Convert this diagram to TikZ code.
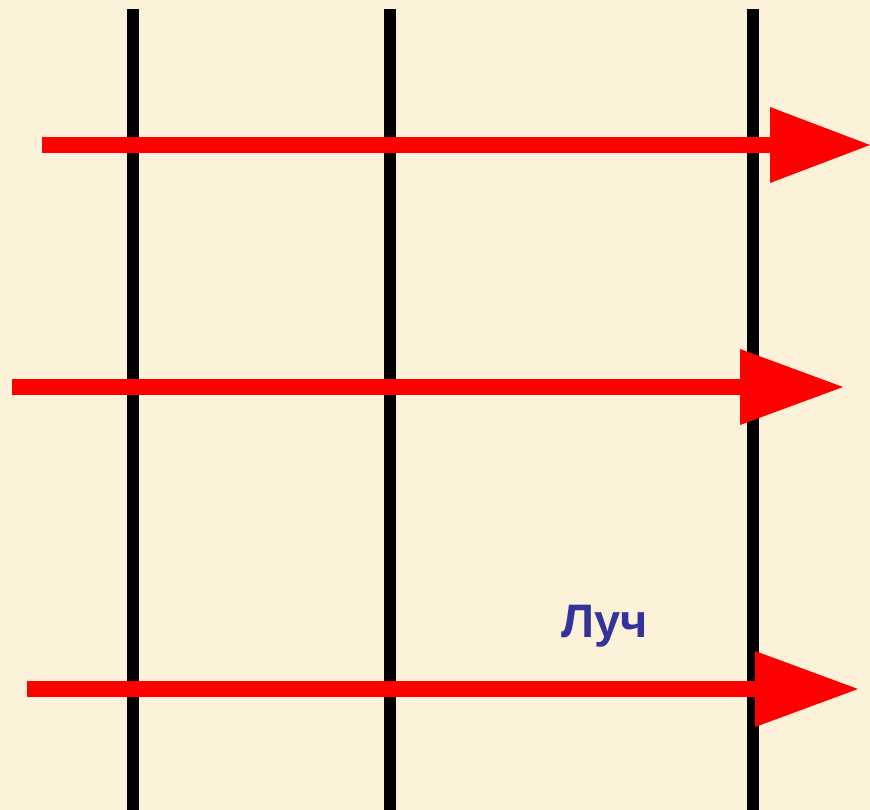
\documentclass[tikz,border=0pt]{standalone}
\usepackage{fontspec}
\setmainfont{Liberation Sans}
\definecolor{bgcream}{HTML}{FCF1D9}
\definecolor{rayred}{HTML}{FF0000}
\definecolor{labelblue}{HTML}{333399}
\tikzset{
  vline/.style={line width=12pt, black},
  shaft/.style={line width=16pt, rayred},
  head/.style={fill=rayred, draw=none},
  lbl/.style={text=labelblue, font=\bfseries\fontsize{47}{50}\selectfont, inner sep=0pt, anchor=base west}
}
\begin{document}
\begin{tikzpicture}[x=1pt,y=-1pt]
\fill[bgcream] (0,0) rectangle (870,810);
\useasboundingbox (0,0) rectangle (870,810);
% vertical lines
\coordinate (v1t) at (133,9); \coordinate (v1b) at (133,810);
\coordinate (v2t) at (390,9); \coordinate (v2b) at (390,810);
\coordinate (v3t) at (753,9); \coordinate (v3b) at (753,810);
\draw[vline] (v1t) -- (v1b);
\draw[vline] (v2t) -- (v2b);
\draw[vline] (v3t) -- (v3b);
% ray 1
\coordinate (a1s) at (42,145); \coordinate (a1h) at (771,145);
\draw[shaft] (a1s) -- (a1h);
\fill[head] (770,107) -- (870,145) -- (770,183) -- cycle;
% ray 2
\coordinate (a2s) at (12,387); \coordinate (a2h) at (741,387);
\draw[shaft] (a2s) -- (a2h);
\fill[head] (740,349) -- (843,387) -- (740,425) -- cycle;
% ray 3
\coordinate (a3s) at (27,689); \coordinate (a3h) at (756,689);
\draw[shaft] (a3s) -- (a3h);
\fill[head] (755,651) -- (858,689) -- (755,727) -- cycle;
% label
\node[lbl] (luch) at (561,637) {Луч};
\end{tikzpicture}
\end{document}
